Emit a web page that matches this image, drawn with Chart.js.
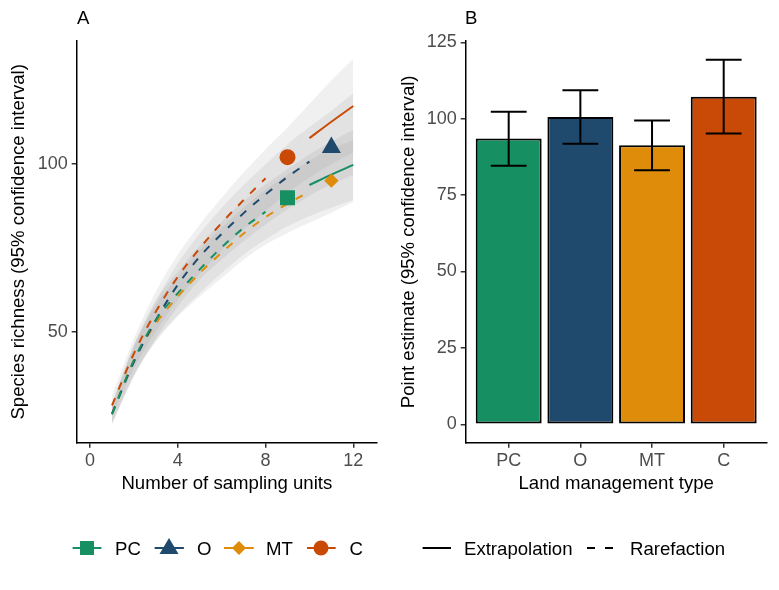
<!DOCTYPE html>
<html><head><meta charset="utf-8">
<script src="https://cdn.jsdelivr.net/npm/chart.js@4.4.0/dist/chart.umd.min.js"></script>
<style>
html,body{margin:0;padding:0;background:#fff;}
#wrap{position:relative;width:779px;height:590px;overflow:hidden;font-family:"Liberation Sans",Arial,sans-serif;background:#fff;}
canvas{position:absolute;top:0;}
#cA{left:0;}
#cB{left:385px;}
.tag{position:absolute;font-size:18.6px;color:#000;line-height:1;}
#legend{position:absolute;left:0;top:0;pointer-events:none;}
</style></head><body>
<div id="wrap">
<canvas id="cA" width="390" height="500"></canvas>
<canvas id="cB" width="394" height="500"></canvas>
<div class="tag" style="left:77px;top:9.3px">A</div>
<div class="tag" style="left:465px;top:9.3px">B</div>
<svg id="legend" width="779" height="590" font-family="Liberation Sans, Arial, sans-serif" font-size="18.6">
  <line x1="72.6" y1="548" x2="101.4" y2="548" stroke="#168F62" stroke-width="2"/>
  <rect x="80" y="541" width="14" height="14" fill="#168F62"/>
  <text x="115" y="554.6">PC</text>
  <line x1="154.6" y1="548" x2="183.9" y2="548" stroke="#1F4A6E" stroke-width="2"/>
  <polygon points="169,538 178.5,554 159.5,554" fill="#1F4A6E"/>
  <text x="197" y="554.6">O</text>
  <line x1="224" y1="548" x2="253.7" y2="548" stroke="#E08C0B" stroke-width="2"/>
  <polygon points="239,541 246,548 239,555 232,548" fill="#E08C0B"/>
  <text x="266" y="554.6">MT</text>
  <line x1="307" y1="548" x2="335.7" y2="548" stroke="#C94A07" stroke-width="2"/>
  <circle cx="321" cy="548" r="7.5" fill="#C94A07"/>
  <text x="349.6" y="554.6">C</text>
  <line x1="422.6" y1="548" x2="451" y2="548" stroke="#000" stroke-width="2"/>
  <text x="464" y="554.6">Extrapolation</text>
  <line x1="587" y1="548" x2="595" y2="548" stroke="#000" stroke-width="2"/>
  <line x1="605" y1="548" x2="613" y2="548" stroke="#000" stroke-width="2"/>
  <text x="630" y="554.6">Rarefaction</text>
</svg>
</div>
<script>
// ---------- Panel A data ----------
const sampleUnits = [1,2,3,4,5,6,7,8,9,10,11,12];
const groupNames = ['PC','O','MT','C'];
const observedUnits = [9, 11, 11, 9];
const estPC = [25.3, 41.5, 53.5, 61.5, 68.6, 75.2, 81.0, 85.8, 90.0, 93.8, 96.9, 99.8];
const loPC  = [22.5, 37.0, 47.5, 55.0, 61.5, 67.5, 73.0, 77.5, 81.5, 84.5, 87.0, 89.3];
const hiPC  = [28.0, 46.0, 59.5, 68.0, 75.7, 82.9, 89.0, 94.0, 98.5, 103.0, 106.8, 110.3];
const estO  = [25.5, 41.0, 53.5, 64.0, 72.4, 79.2, 85.4, 91.0, 96.2, 100.8, 105.0, 109.0];
const loO   = [22.5, 36.5, 48.0, 57.5, 65.5, 71.5, 77.0, 82.0, 86.5, 90.5, 94.0, 96.8];
const hiO   = [28.5, 45.5, 59.0, 70.5, 79.3, 87.0, 93.8, 100.0, 106.0, 111.1, 116.0, 121.2];
const estMT = [25.5, 41.5, 52.5, 60.5, 67.5, 73.6, 79.3, 84.2, 88.2, 91.8, 95.1, 98.0];
const loMT  = [22.5, 37.0, 47.0, 54.5, 60.5, 66.0, 71.5, 76.0, 79.5, 82.5, 85.5, 88.8];
const hiMT  = [28.5, 46.0, 58.0, 66.5, 74.5, 81.2, 87.1, 92.4, 96.9, 101.1, 104.7, 107.2];
const estC  = [28.0, 43.5, 56.0, 66.4, 74.9, 82.5, 89.3, 95.8, 102.1, 107.8, 112.7, 117.4];
const loC   = [25.0, 39.0, 50.0, 59.5, 67.3, 74.2, 80.5, 86.0, 91.5, 96.0, 100.0, 103.4];
const hiC   = [31.0, 48.0, 62.0, 73.0, 82.0, 90.0, 97.5, 104.5, 111.0, 118.0, 125.0, 131.4];
const xTicksA = [0, 4, 8, 12];
const yTicksA = [50, 100];

// ---------- Panel B data ----------
const barCategories = ['PC','O','MT','C'];
const barEstimate = [93.5, 100.6, 91.3, 107.2];
const barLower    = [84.6, 91.8, 83.1, 95.2];
const barUpper    = [102.3, 109.3, 99.4, 119.3];
const yTicksB = [0, 25, 50, 75, 100, 125];

// ---------- styles ----------
const groupColors = ['#168F62','#1F4A6E','#E08C0B','#C94A07'];
const groupShapes = ['rect','triangle','rectRot','circle'];
const groupRadius = [10.6, 11, 7.2, 8];
const ribbonFill = 'rgba(110,110,110,0.10)';
const FONT = "'Liberation Sans', Arial, sans-serif";

const seriesEst = [estPC, estO, estMT, estC];
const seriesLo = [loPC, loO, loMT, loC];
const seriesHi = [hiPC, hiO, hiMT, hiC];

function pts(xs, ys){ return xs.map((x,i)=>({x:x, y:ys[i]})); }

const dsA = [];
groupNames.forEach((g,k)=>{
  dsA.push({label:g+' upper', data:pts(sampleUnits, seriesHi[k]), borderColor:'rgba(0,0,0,0)', borderWidth:0,
    pointRadius:0, fill:'+1', backgroundColor:ribbonFill, cubicInterpolationMode:'monotone', order:5});
  dsA.push({label:g+' lower', data:pts(sampleUnits, seriesLo[k]), borderColor:'rgba(0,0,0,0)', borderWidth:0,
    pointRadius:0, fill:false, cubicInterpolationMode:'monotone', order:5});
});
groupNames.forEach((g,k)=>{
  const n = observedUnits[k];
  dsA.push({label:g+' rarefaction', data:pts(sampleUnits.slice(0,n-1), seriesEst[k].slice(0,n-1)),
    borderColor:groupColors[k], borderWidth:2, borderDash:[8,9], pointRadius:0, fill:false,
    cubicInterpolationMode:'monotone', order:2});
  dsA.push({label:g+' extrapolation', data:pts(sampleUnits.slice(n), seriesEst[k].slice(n)),
    borderColor:groupColors[k], borderWidth:2, pointRadius:0, fill:false,
    cubicInterpolationMode:'monotone', order:2});
});
groupNames.forEach((g,k)=>{
  const n = observedUnits[k];
  dsA.push({label:g+' observed', data:[{x:n, y:seriesEst[k][n-1]}], showLine:false,
    pointStyle:groupShapes[k], pointRadius:groupRadius[k], pointBackgroundColor:groupColors[k],
    pointBorderWidth:0, borderColor:groupColors[k], order:1});
});

function axisCommon(){
  return {
    grid:{display:true, offset:false, drawOnChartArea:false, drawTicks:true, tickLength:5, tickColor:'#333', lineWidth:1.5},
    border:{display:true, color:'#000', width:1.5},
  };
}

new Chart(document.getElementById('cA'), {
  type:'line',
  data:{datasets:dsA},
  options:{
    responsive:false, animation:false, devicePixelRatio:1,
    layout:{padding:{top:41, right:13, left:0, bottom:0}},
    plugins:{legend:{display:false}, tooltip:{enabled:false}},
    scales:{
      x:Object.assign(axisCommon(), {
        type:'linear', min:-0.61, max:13.08,
        afterBuildTicks:(s)=>{ s.ticks = xTicksA.map(v=>({value:v})); },
        afterFit:(s)=>{ s.height = 57.3; },
        ticks:{color:'#4D4D4D', font:{size:18, family:FONT}, padding:2.3, maxRotation:0, autoSkip:false},
        title:{display:true, text:'Number of sampling units', color:'#000', font:{size:18.6, family:FONT}, padding:{top:0,bottom:5.2}}
      }),
      y:Object.assign(axisCommon(), {
        type:'linear', min:16.85, max:136.8,
        afterBuildTicks:(s)=>{ s.ticks = yTicksA.map(v=>({value:v})); },
        afterFit:(s)=>{ s.width = 76.7; },
        ticks:{color:'#4D4D4D', font:{size:18, family:FONT}, padding:4},
        title:{display:true, text:'Species richness (95% confidence interval)', color:'#000', font:{size:18.6, family:FONT}, padding:{top:7.4,bottom:0}}
      })
    }
  }
});

const errorBars = {
  id:'errorBars',
  afterDatasetsDraw(chart){
    const ctx = chart.ctx, x = chart.scales.x, y = chart.scales.y;
    ctx.save();
    ctx.strokeStyle = '#000'; ctx.lineWidth = 2; ctx.lineCap = 'butt';
    barCategories.forEach((c,i)=>{
      const px = x.getPixelForValue(i);
      const l = x.getPixelForValue(i-0.25), r = x.getPixelForValue(i+0.25);
      const yl = y.getPixelForValue(barLower[i]), yh = y.getPixelForValue(barUpper[i]);
      ctx.beginPath();
      ctx.moveTo(px, yl); ctx.lineTo(px, yh);
      ctx.moveTo(l, yl); ctx.lineTo(r, yl);
      ctx.moveTo(l, yh); ctx.lineTo(r, yh);
      ctx.stroke();
    });
    ctx.restore();
  }
};

new Chart(document.getElementById('cB'), {
  type:'bar',
  data:{datasets:[{
    label:'Point estimate',
    data:barCategories.map((c,i)=>({x:i, y:barEstimate[i]})),
    backgroundColor:groupColors, borderColor:'#000', borderWidth:2, borderSkipped:false,
    categoryPercentage:0.92, barPercentage:1
  }]},
  options:{
    responsive:false, animation:false, devicePixelRatio:1,
    layout:{padding:{top:41, right:12.3, left:0, bottom:0}},
    plugins:{legend:{display:false}, tooltip:{enabled:false}},
    scales:{
      x:Object.assign(axisCommon(), {
        type:'linear', min:-0.6, max:3.6, offset:false,
        afterBuildTicks:(s)=>{ s.ticks = barCategories.map((c,i)=>({value:i})); },
        afterFit:(s)=>{ s.height = 57.3; },
        ticks:{color:'#4D4D4D', font:{size:18, family:FONT}, padding:2.3, maxRotation:0, autoSkip:false,
          callback:(v)=>barCategories[v]},
        title:{display:true, text:'Land management type', color:'#000', font:{size:18.6, family:FONT}, padding:{top:0,bottom:5.2}}
      }),
      y:Object.assign(axisCommon(), {
        type:'linear', min:-6.02, max:125.43,
        afterBuildTicks:(s)=>{ s.ticks = yTicksB.map(v=>({value:v})); },
        afterFit:(s)=>{ s.width = 80.7; },
        ticks:{color:'#4D4D4D', font:{size:18, family:FONT}, padding:4},
        title:{display:true, text:'Point estimate (95% confidence interval)', color:'#000', font:{size:18.6, family:FONT}, padding:{top:12.4,bottom:0}}
      })
    }
  },
  plugins:[errorBars]
});
</script>
</body></html>
